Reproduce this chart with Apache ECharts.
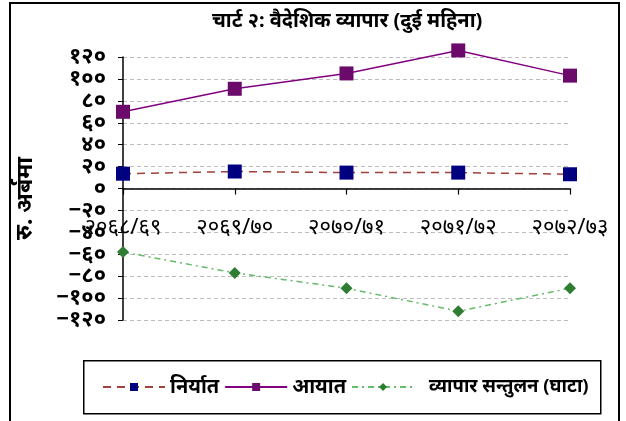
<!DOCTYPE html>
<html>
<head>
<meta charset="utf-8">
<script src="https://cdn.jsdelivr.net/npm/echarts@6/dist/echarts.min.js"></script>
<style>
html,body{margin:0;padding:0;background:#fff;}
#frame{position:absolute;left:9px;top:2px;width:611px;height:440px;border:2px solid #000;box-sizing:border-box;}
#chart{position:absolute;left:0;top:0;width:626px;height:421px;}
</style>
</head>
<body>
<div id="frame"></div>
<div id="chart"></div>
<script>
const titleText = 'चार्ट २: वैदेशिक व्यापार (दुई महिना)';
const yAxisName = 'रु. अर्बमा';
const categories = ['२०६८/६९', '२०६९/७०', '२०७०/७१', '२०७१/७२', '२०७२/७३'];
const seriesNames = ['निर्यात', 'आयात', 'व्यापार सन्तुलन (घाटा)'];
const exportsData = [13.5, 15.5, 14.5, 14.5, 13];
const importsData = [70, 91, 105, 126, 103];
const balanceData = [-58, -77, -91, -112, -91];
const yMin = -120, yMax = 120, yStep = 20;
const devanagariDigits = ['०', '१', '२', '३', '४', '५', '६', '७', '८', '९'];

function toDev(v) {
  const s = String(Math.abs(v)).split('').map(ch => devanagariDigits[+ch]).join('');
  return (v < 0 ? '−' : '') + s;
}

const GRID_TOP = 57, GRID_BOTTOM = 101, H = 421;
const plotH = H - GRID_TOP - GRID_BOTTOM;
// x axis sits at value 0: shift it up from the grid bottom by the fraction of the range below zero
const zeroOffset = -plotH * (0 - yMin) / (yMax - yMin);

const FONT = '"Noto Sans", "Noto Sans Devanagari", "Lohit Devanagari", sans-serif';
const chart = echarts.init(document.getElementById('chart'), null, {renderer: 'canvas'});
chart.setOption({
  animation: false,
  backgroundColor: 'transparent',
  textStyle: {fontFamily: FONT, color: '#000'},
  title: {
    text: titleText,
    left: 207, top: 6,
    textStyle: {fontFamily: FONT, fontSize: 20, fontWeight: 'bold', color: '#000'}
  },
  grid: {left: 123, right: 56, top: GRID_TOP, bottom: GRID_BOTTOM},
  graphic: [{
    type: 'rect', left: 83, top: 360, z: 0,
    shape: {width: 517, height: 53},
    style: {fill: '#fff', stroke: '#000', lineWidth: 1.5}
  }],
  legend: {
    left: 97, top: 372,
    itemWidth: 62, itemHeight: 10, itemGap: 5,
    textStyle: {fontFamily: FONT, fontSize: 20, fontWeight: 'bold', color: '#000'},
    data: [
      {name: seriesNames[0]},
      {name: seriesNames[1]},
      {name: seriesNames[2], textStyle: {fontSize: 18.5, padding: [0, 0, 0, 10]}}
    ]
  },
  xAxis: {
    type: 'category',
    data: categories,
    boundaryGap: false,
    offset: zeroOffset,
    axisLine: {onZero: false, lineStyle: {color: '#000', width: 1.5}},
    axisTick: {show: true, length: 6, lineStyle: {color: '#000', width: 1.2}},
    axisLabel: {interval: 0, margin: 28, fontSize: 22, color: '#000', fontFamily: FONT},
    splitLine: {show: false}
  },
  yAxis: {
    type: 'value',
    min: yMin, max: yMax, interval: yStep,
    name: yAxisName,
    nameLocation: 'middle',
    nameRotate: 90,
    nameGap: 86,
    nameTextStyle: {fontFamily: FONT, fontSize: 23, fontWeight: 'bold', color: '#000', padding: [0, 20, 0, 0]},
    axisLine: {show: true, lineStyle: {color: '#000', width: 1.5}},
    axisTick: {show: true, length: 5, lineStyle: {color: '#000'}},
    axisLabel: {formatter: v => toDev(v), fontSize: 22, fontWeight: 'bold', color: '#000', margin: 17, fontFamily: FONT},
    splitLine: {show: true, lineStyle: {color: '#bdbdbd', type: [4, 3], width: 1}}
  },
  series: [
    {
      name: seriesNames[0], type: 'line', data: exportsData, clip: false,
      symbol: 'rect', symbolSize: 14,
      itemStyle: {color: '#000080'},
      lineStyle: {color: '#a0413c', type: [8, 6], width: 1.5},
      z: 3
    },
    {
      name: seriesNames[1], type: 'line', data: importsData, clip: false,
      symbol: 'rect', symbolSize: 14,
      itemStyle: {color: '#6b0a6b'},
      lineStyle: {color: '#800080', width: 1.5},
      z: 3
    },
    {
      name: seriesNames[2], type: 'line', data: balanceData, clip: false,
      symbol: 'diamond', symbolSize: 12,
      itemStyle: {color: '#2e7d32'},
      lineStyle: {color: '#66bb6a', type: [6, 4, 2, 4], width: 1.5},
      z: 3
    }
  ]
});
</script>
</body>
</html>
